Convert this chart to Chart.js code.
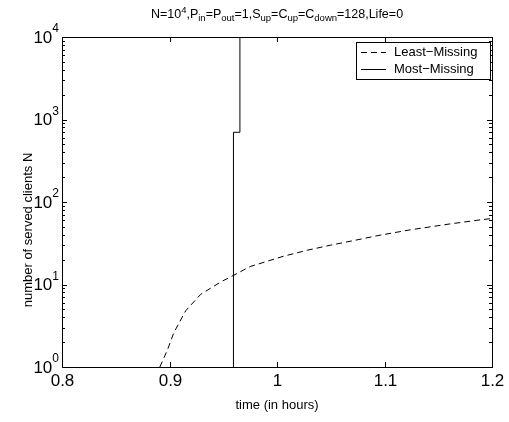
<!DOCTYPE html>
<html>
<head>
<meta charset="utf-8">
<script src="https://cdn.jsdelivr.net/npm/chart.js@4"></script>
<style>
  body { margin: 0; background: #fff; }
  canvas { display: block; }
</style>
</head>
<body>
<canvas id="myChart" width="509" height="422"></canvas>
<script>
// data
const leastX = [0.891, 0.898, 0.904, 0.915, 0.929, 0.948, 0.960, 0.975, 1.006, 1.028, 1.050, 1.071, 1.093, 1.124, 1.160, 1.190, 1.200];
const leastY = [1, 1.6, 2.6, 4.8, 7.6, 10.8, 13, 16.5, 22, 26, 30, 34, 39, 46, 54, 61, 63];
const mostX = [0.9595, 0.9595, 0.9655, 0.9655];
const mostY = [1, 700, 700, 10000];

const xTicks = [0.8, 0.9, 1.0, 1.1, 1.2];
const xTickLabels = ['0.8', '0.9', '1', '1.1', '1.2'];
const yDecades = [0, 1, 2, 3, 4];

const titleParts = [
  ['N=10', 0], ['4', 1], [',P', 0], ['in', -1], ['=P', 0], ['out', -1],
  ['=1,S', 0], ['up', -1], ['=C', 0], ['up', -1], ['=C', 0], ['down', -1],
  ['=128,Life=0', 0],
];

function pts(xs, ys) {
  return xs.map((x, i) => ({ x, y: ys[i] }));
}

const FONT = 'Arial, "Liberation Sans", sans-serif';

const matlabAxes = {
  id: 'matlabAxes',
  afterDraw(chart) {
    const { ctx, chartArea: a, scales } = chart;
    const xs = scales.x, ys = scales.y;
    ctx.save();
    ctx.strokeStyle = '#000';
    ctx.fillStyle = '#000';
    ctx.lineWidth = 1;

    // box
    ctx.strokeRect(Math.round(a.left) + 0.5, Math.round(a.top) + 0.5,
      Math.round(a.right - a.left), Math.round(a.bottom - a.top));

    // x ticks + labels
    ctx.font = '17px ' + FONT;
    ctx.textAlign = 'center';
    ctx.textBaseline = 'middle';
    xTicks.forEach((v, i) => {
      const px = Math.round(xs.getPixelForValue(v)) + 0.5;
      ctx.beginPath();
      ctx.moveTo(px, a.bottom); ctx.lineTo(px, a.bottom - 5);
      ctx.moveTo(px, a.top); ctx.lineTo(px, a.top + 5);
      ctx.stroke();
      ctx.fillText(xTickLabels[i], px, a.bottom + 14);
    });

    // y ticks (decades + minor)
    yDecades.forEach(d => {
      for (let m = 1; m <= 9; m++) {
        const v = m * Math.pow(10, d);
        if (v > ys.max) break;
        const py = Math.round(ys.getPixelForValue(v)) + 0.5;
        const len = m === 1 ? 5 : 3;
        ctx.beginPath();
        ctx.moveTo(a.left, py); ctx.lineTo(a.left + len, py);
        ctx.moveTo(a.right, py); ctx.lineTo(a.right - len, py);
        ctx.stroke();
      }
      // label 10^d
      const py = ys.getPixelForValue(Math.pow(10, d));
      ctx.font = '12px ' + FONT;
      const supW = ctx.measureText(String(d)).width;
      ctx.textAlign = 'left';
      ctx.textBaseline = 'middle';
      ctx.fillText(String(d), a.left - 3 - supW, py - 8);
      ctx.font = '17px ' + FONT;
      ctx.textAlign = 'right';
      ctx.fillText('10', a.left - 3 - supW, py + 1);
    });

    // axis titles
    ctx.font = '13px ' + FONT;
    ctx.textAlign = 'center';
    ctx.textBaseline = 'middle';
    ctx.fillText('time (in hours)', (a.left + a.right) / 2, a.bottom + 38);
    ctx.save();
    ctx.translate(28, (a.top + a.bottom) / 2 + 28);
    ctx.rotate(-Math.PI / 2);
    ctx.fillText('number of served clients N', 0, 0);
    ctx.restore();

    // title with sub/superscripts
    const big = '12.5px ' + FONT, small = '9.5px ' + FONT;
    let total = 0;
    titleParts.forEach(([t, k]) => {
      ctx.font = k === 0 ? big : small;
      total += ctx.measureText(t).width;
    });
    let tx = (a.left + a.right) / 2 - total / 2;
    const ty = 18;
    ctx.textAlign = 'left';
    ctx.textBaseline = 'alphabetic';
    titleParts.forEach(([t, k]) => {
      ctx.font = k === 0 ? big : small;
      const off = k === 1 ? -5 : (k === -1 ? 3 : 0);
      ctx.fillText(t, tx, ty + off);
      tx += ctx.measureText(t).width;
    });

    // legend
    const lx = a.right - 136, ly = a.top + 5, lw = 134, lh = 37;
    ctx.fillStyle = '#fff';
    ctx.fillRect(lx, ly, lw, lh);
    ctx.strokeRect(Math.round(lx) + 0.5, Math.round(ly) + 0.5, lw, lh);
    ctx.fillStyle = '#000';
    ctx.font = '13px ' + FONT;
    ctx.textBaseline = 'middle';
    const items = [['Least\u2212Missing', [6, 4]], ['Most\u2212Missing', []]];
    items.forEach(([label, dash], i) => {
      const yy = Math.round(ly + 10 + i * 17) + 0.5;
      ctx.setLineDash(dash);
      ctx.beginPath();
      ctx.moveTo(lx + 5, yy); ctx.lineTo(lx + 30, yy);
      ctx.stroke();
      ctx.setLineDash([]);
      ctx.fillText(label, lx + 38, yy);
    });
    ctx.restore();
  },
};

new Chart('myChart', {
  type: 'scatter',
  data: {
    datasets: [
      {
        label: 'Least-Missing',
        data: pts(leastX, leastY),
        showLine: true,
        borderColor: '#000',
        borderWidth: 1,
        borderDash: [6, 4],
        pointRadius: 0,
        tension: 0,
      },
      {
        label: 'Most-Missing',
        data: pts(mostX, mostY),
        showLine: true,
        borderColor: '#000',
        borderWidth: 1,
        pointRadius: 0,
        tension: 0,
      },
    ],
  },
  options: {
    responsive: false,
    animation: false,
    devicePixelRatio: 1,
    layout: { padding: { left: 62, right: 17, top: 37, bottom: 55 } },
    plugins: {
      legend: { display: false },
      tooltip: { enabled: false },
    },
    scales: {
      x: {
        type: 'linear',
        min: 0.8,
        max: 1.2,
        ticks: { display: false },
        grid: { display: false },
        border: { display: false },
        afterFit(scale) { scale.height = 0; },
      },
      y: {
        type: 'logarithmic',
        min: 1,
        max: 10000,
        ticks: { display: false },
        grid: { display: false },
        border: { display: false },
        afterFit(scale) { scale.width = 0; },
      },
    },
  },
  plugins: [matlabAxes],
});
</script>
</body>
</html>
